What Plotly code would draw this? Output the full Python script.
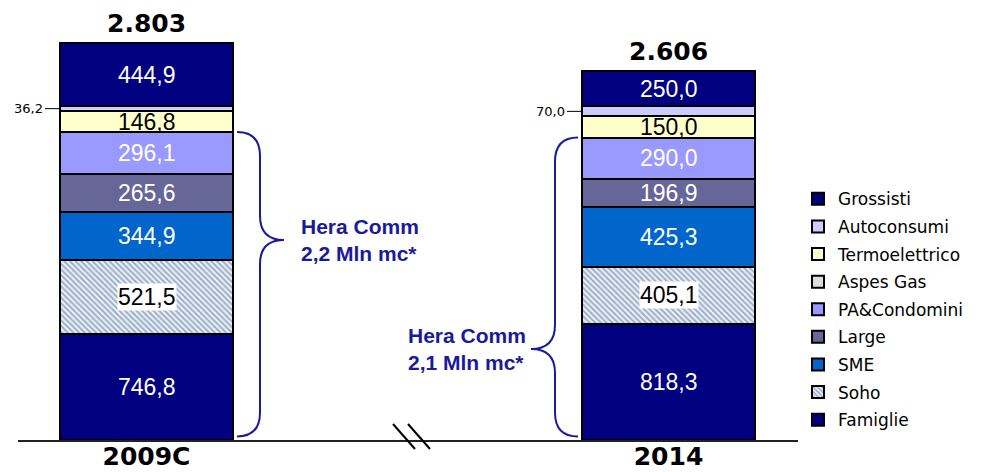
import plotly.graph_objects as go

# ---------------- data ----------------
categories = ["2009C", "2014"]
famiglie = [746.8, 818.3]
soho = [521.5, 405.1]
sme = [344.9, 425.3]
large = [265.6, 196.9]
pa_condomini = [296.1, 290.0]
aspes_gas = [0.0, 0.0]
termoelettrico = [146.8, 150.0]
autoconsumi = [36.2, 70.0]
grossisti = [444.9, 250.0]
hera_comm_labels = ["Hera Comm<br>2,2 Mln mc*", "Hera Comm<br>2,1 Mln mc*"]

# stacking order bottom -> top
series = [
    ("Famiglie", famiglie),
    ("Soho", soho),
    ("SME", sme),
    ("Large", large),
    ("PA&Condomini", pa_condomini),
    ("Aspes Gas", aspes_gas),
    ("Termoelettrico", termoelettrico),
    ("Autoconsumi", autoconsumi),
    ("Grossisti", grossisti),
]

# ---------------- styles ----------------
styles = {
    "Famiglie": dict(color="#000080", text="white"),
    "Soho": dict(color="#dfe6ef", text="black", pattern=True),
    "SME": dict(color="#0066CC", text="white"),
    "Large": dict(color="#666699", text="white"),
    "PA&Condomini": dict(color="#9999FF", text="white"),
    "Aspes Gas": dict(color="#DDDDDD", text="black"),
    "Termoelettrico": dict(color="#FFFFCC", text="black"),
    "Autoconsumi": dict(color="#CCCCFF", text="black", outside=True),
    "Grossisti": dict(color="#000080", text="white"),
}
BRACE_COLOR = "#1a1a9c"

# geometry of the page (pixels)
W, H = 984, 472
L_PX, R_PX, BASE_PX = 18, 798, 440
X_RANGE = [-0.2462, 1.2481]
Y_MAX = 3107
BAR_W = 0.3314
px_x = (R_PX - L_PX) / (X_RANGE[1] - X_RANGE[0])
px_y = BASE_PX / Y_MAX

xs = list(range(len(categories)))


def fmt(v):
    return f"{v:.1f}".replace(".", ",")


fig = go.Figure()
n_series = len(series)
for k, (name, vals) in enumerate(series):
    st = styles[name]
    marker = dict(color=st["color"], line=dict(color="black", width=2))
    if st.get("pattern"):
        marker["pattern"] = dict(shape="\\", size=4, solidity=0.5,
                                 fgcolor="#4a6a98", bgcolor="#eef2f7")
    fig.add_trace(go.Bar(
        x=xs, y=vals, name=name, width=BAR_W, marker=marker,
        legendgroup=name, legendrank=n_series - k, hoverinfo="skip",
    ))

annotations = []
# segment labels
cum = [0.0] * len(xs)
for name, vals in series:
    st = styles[name]
    for j, v in enumerate(vals):
        mid = cum[j] + v / 2
        if v > 0:
            if st.get("outside"):
                annotations.append(dict(
                    x=xs[j] - BAR_W / 2, y=mid, text=fmt(v), showarrow=True,
                    arrowhead=0, arrowwidth=1, arrowcolor="black", ax=-15, ay=0,
                    xanchor="right", font=dict(family="DejaVu Sans", size=13, color="black"),
                ))
            else:
                a = dict(x=xs[j], y=mid, text=fmt(v), showarrow=False,
                         font=dict(family="Liberation Sans, Arial", size=23, color=st["text"]))
                if st.get("pattern"):
                    a["bgcolor"] = "white"
                    a["borderpad"] = 0
                annotations.append(a)
        cum[j] += v

# totals
for j in xs:
    total = cum[j]
    annotations.append(dict(
        x=xs[j], y=total, text=f"{round(total):,}".replace(",", "."), showarrow=False,
        yanchor="bottom", yshift=3,
        font=dict(family="DejaVu Sans", size=25, color="black", weight="bold"),
    ))

# braces
pa_top = [sum(v[j] for n, v in series[:5]) for j in xs]
brace_tip = [1412, 642]
brace_side = [1, -1]
GAP, STEM, TIP, R = 4, 27, 51, 24


def brace_path(x_edge, side, y_top, y_bot, y_tip):
    x0 = x_edge + side * GAP / px_x
    xv = x_edge + side * STEM / px_x
    xt = x_edge + side * TIP / px_x
    r = R / px_y
    return (f"M {x0},{y_top} Q {xv},{y_top} {xv},{y_top - r} "
            f"L {xv},{y_tip + r} Q {xv},{y_tip} {xt},{y_tip} "
            f"Q {xv},{y_tip} {xv},{y_tip - r} L {xv},{y_bot + r} "
            f"Q {xv},{y_bot} {x0},{y_bot}")


shapes = []
hera_font = dict(family="Liberation Sans, Arial", size=21, color=BRACE_COLOR, weight="bold")
for j in xs:
    side = brace_side[j]
    edge = xs[j] + side * BAR_W / 2
    shapes.append(dict(type="path", xref="x", yref="y",
                       path=brace_path(edge, side, pa_top[j], 25, brace_tip[j]),
                       line=dict(color=BRACE_COLOR, width=2)))
    if side > 0:
        annotations.append(dict(x=edge + 66 / px_x, y=brace_tip[j], text=hera_comm_labels[j],
                                showarrow=False, xanchor="left", align="left", font=hera_font))
    else:
        annotations.append(dict(x=edge - 54 / px_x, y=brace_tip[j], text=hera_comm_labels[j],
                                showarrow=False, xanchor="right", align="left", font=hera_font))

# axis break marks


def px2paper(px, py):
    return (px - L_PX) / (R_PX - L_PX), (BASE_PX - py) / BASE_PX


for (ax0, ay0, ax1, ay1) in [(393, 424, 415, 449), (408, 424, 430, 449)]:
    p0 = px2paper(ax0, ay0)
    p1 = px2paper(ax1, ay1)
    shapes.append(dict(type="line", xref="paper", yref="paper",
                       x0=p0[0], y0=p0[1], x1=p1[0], y1=p1[1],
                       line=dict(color="black", width=2)))

fig.update_layout(
    width=W, height=H,
    barmode="stack",
    plot_bgcolor="white", paper_bgcolor="white",
    margin=dict(l=L_PX, r=W - R_PX, t=0, b=H - BASE_PX, pad=0, autoexpand=False),
    font=dict(family="DejaVu Sans", color="black"),
    separators=",.",
    xaxis=dict(range=X_RANGE, tickvals=xs, ticktext=categories, showgrid=False,
               zeroline=False, showline=True, linecolor="#222222", linewidth=2,
               ticks="", automargin=False, ticklabelstandoff=-7,
               tickfont=dict(family="DejaVu Sans", size=25, color="black", weight="bold"),
               fixedrange=True),
    yaxis=dict(range=[0, Y_MAX], visible=False, fixedrange=True, automargin=False),
    legend=dict(x=1.0, xanchor="left", y=0.588, yanchor="top",
                traceorder="grouped", tracegroupgap=2.5,
                font=dict(family="DejaVu Sans", size=17, color="black"),
                bgcolor="rgba(0,0,0,0)"),
    annotations=annotations,
    shapes=shapes,
    showlegend=True,
)

fig.write_html("out.html", config={"displayModeBar": False},
               post_script="document.body.style.margin='0';document.body.style.overflow='hidden';")
